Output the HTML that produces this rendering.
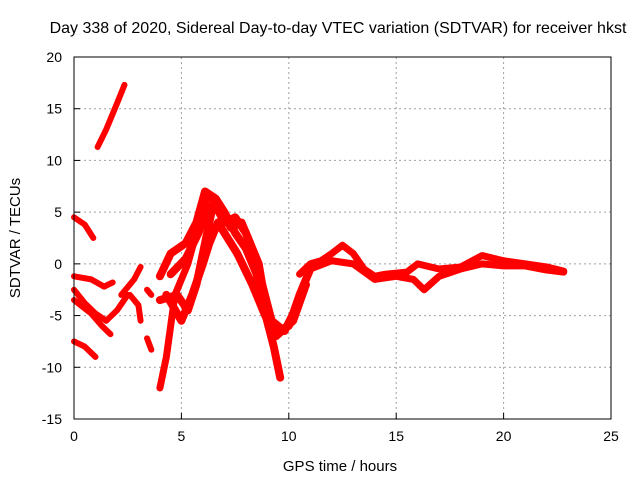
<!DOCTYPE html>
<html><head><meta charset="utf-8"><style>
body{margin:0;background:#fff;}
svg{display:block;font-family:"Liberation Sans",sans-serif;}
</style></head><body>
<svg id="chart" width="640" height="480">
<text x="338" y="33" text-anchor="middle" font-size="16">Day 338 of 2020, Sidereal Day-to-day VTEC variation (SDTVAR) for receiver hkst</text>
<g id="grid"></g>
<g id="series"></g>
<rect x="74" y="57" width="537" height="362" fill="none" stroke="#000"/>
<g id="axes"></g>
<text x="340" y="471" text-anchor="middle" font-size="15">GPS time / hours</text>
<text transform="translate(20,238) rotate(-90)" text-anchor="middle" font-size="15">SDTVAR / TECUs</text>
</svg>
<script>
const xTicks=[0,5,10,15,20,25];
const yTicks=[20,15,10,5,0,-5,-10,-15];
const seg1=[[1.1,11.3],[1.5,13],[2.0,15.5],[2.35,17.3]];
const seg2=[[0,4.5],[0.5,3.8],[0.9,2.5]];
const seg3=[[0,-1.2],[0.8,-1.5],[1.4,-2.2],[1.8,-1.8]];
const seg4=[[0,-2.5],[0.5,-3.8],[1,-4.8],[1.5,-5.5],[2.0,-4.5],[2.5,-3]];
const seg5=[[0,-3.5],[0.8,-4.8],[1.3,-6],[1.7,-6.8]];
const seg6=[[0,-7.5],[0.5,-8],[1,-9]];
const seg7=[[2.2,-3],[2.8,-1.5],[3.1,-0.3]];
const seg8=[[2.6,-3],[3.0,-4],[3.1,-5.5]];
const seg9=[[3.4,-2.5],[3.6,-3]];
const seg10=[[3.4,-7.2],[3.6,-8.3]];
const seg11=[[4.0,-12],[4.3,-9],[4.7,-3],[5.3,0],[5.7,3],[6.0,6],[6.5,6.5]];
const humpA=[[4.0,-1.2],[4.5,1],[5.2,2],[5.7,4],[6.1,7],[6.6,6.3],[7.0,5],[7.5,3],[8.0,1.5],[8.5,-1],[8.8,-4],[9.3,-8],[9.6,-11]];
const humpB=[[4.0,-3.5],[4.8,-3],[5.3,-4.5],[5.7,-2],[6.1,2],[6.5,6],[7.0,4],[7.5,4.5],[8.0,3],[8.6,0],[9.0,-5],[9.5,-6.5],[10.0,-6],[10.5,-3],[11,-0.5]];
const humpC=[[4.3,-3],[5.0,-5.5],[5.5,-3],[6.0,0],[6.3,2],[6.7,4],[7.0,3],[7.6,1],[8.3,-2],[8.9,-5],[9.4,-7],[10.2,-5.5],[10.8,-2]];
const humpD=[[4.5,-1],[5.2,0.5],[5.8,3],[6.2,5.5],[6.8,5.5],[7.3,3.5],[7.8,4],[8.2,2],[8.7,-1.5],[9.2,-5.5],[9.8,-6.5],[10.4,-4]];
const tail1=[[10.5,-1],[11,0],[11.5,0.3],[12.0,1],[12.5,1.8],[13.0,1],[13.5,-0.5],[14,-1.2],[14.5,-1],[15.5,-0.8],[16.0,0],[17,-0.5],[18,-0.3],[19,0.8],[20,0.3],[21,0],[22,-0.3],[22.8,-0.7]];
const tail2=[[11,-0.5],[12,0.3],[13,0],[14,-1.5],[15,-1.2],[15.8,-1.5],[16.3,-2.5],[17,-1.2],[18,-0.5],[19,0],[20,-0.2],[21,-0.2],[22,-0.6],[22.8,-0.8]];
const segments=[seg1,seg2,seg3,seg4,seg5,seg6,seg7,seg8,seg9,seg10,seg11,humpA,humpB,humpC,humpD,tail1,tail2];
const widths=[6,6,6,6,6,6,6,6,6,6,7,8,8,8,8,7,7];

const X0=74,X1=611,Y0=419,Y1=57;
const xs=v=>X0+(v-0)/(25-0)*(X1-X0);
const ys=v=>Y0-(v-(-15))/(20-(-15))*(Y0-Y1);
const NS="http://www.w3.org/2000/svg";
const grid=document.getElementById('grid'),axes=document.getElementById('axes'),ser=document.getElementById('series');
function mk(tag,attrs,parent){const e=document.createElementNS(NS,tag);for(const k in attrs)e.setAttribute(k,attrs[k]);parent.appendChild(e);return e;}
xTicks.forEach(t=>{
  const x=xs(t);
  if(t>0&&t<25){const g=mk('line',{x1:x,x2:x,y1:Y1,y2:Y0,stroke:'#a0a0a0','stroke-dasharray':'2,3'},grid);
  
  }
  const tk=mk('line',{x1:x,x2:x,y1:Y0,y2:Y0-6,stroke:'#000'},axes);
  
  
  const tx=mk('text',{x:x,y:Y0+22,'text-anchor':'middle','font-size':14},axes);
  tx.textContent=t;
  
  
});
yTicks.forEach(t=>{
  const y=ys(t);
  if(t>-15&&t<20){const g=mk('line',{x1:X0,x2:X1,y1:y,y2:y,stroke:'#a0a0a0','stroke-dasharray':'2,3'},grid);
  
  }
  const tk=mk('line',{x1:X0,x2:X0+6,y1:y,y2:y,stroke:'#000'},axes);
  
  
  const tx=mk('text',{x:X0-12,y:y+5,'text-anchor':'end','font-size':14},axes);
  tx.textContent=t;
  
  
});
segments.forEach((s,i)=>{
  const p=mk('polyline',{points:s.map(d=>xs(d[0])+','+ys(d[1])).join(' '),fill:'none',stroke:'#ff0000','stroke-width':widths[i],'stroke-linejoin':'round','stroke-linecap':'round'},ser);
  
  
});
</script>
</body></html>
